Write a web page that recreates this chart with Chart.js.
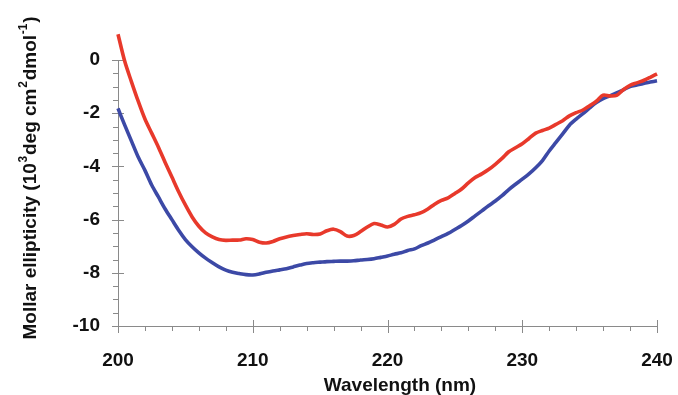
<!DOCTYPE html>
<html>
<head>
<meta charset="utf-8">
<script src="https://cdn.jsdelivr.net/npm/chart.js@4.4.1/dist/chart.umd.min.js"></script>
<style>
  html, body { margin: 0; padding: 0; background: #ffffff; }
  #wrap { position: relative; width: 678px; height: 395px; }
</style>
</head>
<body>
<div id="wrap"><canvas id="c" width="678" height="395"></canvas></div>
<script>
// ---- data ----
const wavelengths = [
  200.0,200.5,201.0,201.5,202.0,202.5,203.0,203.5,204.0,204.5,
  205.0,205.5,206.0,206.5,207.0,207.5,208.0,208.5,209.0,209.5,
  210.0,210.5,211.0,211.5,212.0,212.5,213.0,213.5,214.0,214.5,
  215.0,215.5,216.0,216.5,217.0,217.5,218.0,218.5,219.0,219.5,
  220.0,220.5,221.0,221.5,222.0,222.5,223.0,223.5,224.0,224.5,
  225.0,225.5,226.0,226.5,227.0,227.5,228.0,228.5,229.0,229.5,
  230.0,230.5,231.0,231.5,232.0,232.5,233.0,233.5,234.0,234.5,
  235.0,235.5,236.0,236.5,237.0,237.5,238.0,238.5,239.0,239.5,
  240.0
];
const redSeries = [
  0.97,-0.05,-0.82,-1.55,-2.22,-2.75,-3.28,-3.85,-4.40,-4.95,
  -5.45,-5.90,-6.25,-6.50,-6.65,-6.75,-6.78,-6.77,-6.77,-6.72,
  -6.75,-6.85,-6.88,-6.82,-6.72,-6.65,-6.60,-6.56,-6.53,-6.56,
  -6.54,-6.42,-6.36,-6.45,-6.62,-6.60,-6.45,-6.28,-6.15,-6.20,
  -6.28,-6.18,-5.98,-5.88,-5.82,-5.74,-5.60,-5.42,-5.28,-5.18,
  -5.02,-4.85,-4.62,-4.42,-4.28,-4.12,-3.92,-3.70,-3.45,-3.30,
  -3.15,-2.95,-2.75,-2.65,-2.56,-2.42,-2.28,-2.10,-1.98,-1.88,
  -1.72,-1.55,-1.32,-1.35,-1.33,-1.12,-0.95,-0.86,-0.77,-0.65,
  -0.52
];
const blueSeries = [
  -1.82,-2.45,-3.05,-3.65,-4.15,-4.70,-5.15,-5.60,-6.00,-6.40,
  -6.75,-7.02,-7.25,-7.45,-7.62,-7.78,-7.90,-7.98,-8.03,-8.07,
  -8.08,-8.04,-7.98,-7.93,-7.89,-7.85,-7.78,-7.71,-7.65,-7.62,
  -7.60,-7.58,-7.57,-7.56,-7.56,-7.55,-7.52,-7.50,-7.47,-7.42,
  -7.37,-7.30,-7.25,-7.16,-7.10,-6.98,-6.88,-6.76,-6.64,-6.52,
  -6.37,-6.22,-6.05,-5.86,-5.67,-5.48,-5.30,-5.10,-4.87,-4.67,
  -4.48,-4.28,-4.05,-3.78,-3.42,-3.10,-2.78,-2.45,-2.22,-2.02,
  -1.80,-1.60,-1.45,-1.35,-1.24,-1.12,-1.00,-0.94,-0.88,-0.83,
  -0.78
];
const xTickValues = [200, 210, 220, 230, 240];
const yTickValues = [0, -2, -4, -6, -8, -10];

const xTitle = 'Wavelength (nm)';
const yTitleParts = [
  ['Mollar ellipticity (10', false],
  ['3', true],
  ['deg cm', false],
  ['2', true],
  ['dmol', false],
  ['-1', true],
  [')', false]
];

const FONT = '"Liberation Sans", Arial, sans-serif';
const AXIS_COLOR = '#8a8a8a';

const decorPlugin = {
  id: 'decor',
  beforeDatasetsDraw(chart) {
    const ctx = chart.ctx;
    const xs = chart.scales.x, ys = chart.scales.y;
    const a = chart.chartArea;
    ctx.save();
    ctx.strokeStyle = AXIS_COLOR;
    ctx.lineWidth = 1;
    ctx.beginPath();
    // y ticks: every 0.5, majors at labelled values
    for (let v = ys.min; v <= ys.max + 1e-9; v += 0.5) {
      const p = Math.round(ys.getPixelForValue(v)) + 0.5;
      const major = yTickValues.includes(Math.round(v * 10) / 10);
      ctx.moveTo(a.left - (major ? 6 : 5), p);
      ctx.lineTo(a.left + (major ? 6 : 0), p);
    }
    // x ticks: every 2 nm, majors at labelled values
    for (let v = xs.min; v <= xs.max + 1e-9; v += 2) {
      const p = Math.round(xs.getPixelForValue(v)) + 0.5;
      const major = xTickValues.includes(v);
      ctx.moveTo(p, a.bottom + (major ? 7 : 5));
      ctx.lineTo(p, a.bottom - (major ? 6 : 0));
    }
    ctx.stroke();
    ctx.restore();
  },
  afterDraw(chart) {
    const ctx = chart.ctx;
    ctx.save();
    ctx.fillStyle = '#111111';
    // x title
    ctx.font = 'bold 19px ' + FONT;
    ctx.textAlign = 'center';
    ctx.textBaseline = 'alphabetic';
    ctx.fillText(xTitle, 400, 391);
    // y title (rotated, with superscripts)
    const mainFont = 'bold 19px ' + FONT;
    const supFont = 'bold 12px ' + FONT;
    let total = 0;
    yTitleParts.forEach(([t, sup]) => {
      ctx.font = sup ? supFont : mainFont;
      total += ctx.measureText(t).width + (sup ? 1.5 : 0);
    });
    ctx.translate(36, 178 + total / 2);
    ctx.rotate(-Math.PI / 2);
    ctx.textAlign = 'left';
    let x = 0;
    yTitleParts.forEach(([t, sup]) => {
      ctx.font = sup ? supFont : mainFont;
      ctx.fillText(t, x + (sup ? 0.75 : 0), sup ? -9 : 0);
      x += ctx.measureText(t).width + (sup ? 1.5 : 0);
    });
    ctx.restore();
  }
};

new Chart(document.getElementById('c'), {
  type: 'line',
  data: {
    datasets: [
      {
        label: 'red',
        data: wavelengths.map((w, i) => ({ x: w, y: redSeries[i] })),
        borderColor: '#e8392b',
        borderWidth: 3.6,
        pointRadius: 0,
        tension: 0.3,
        fill: false,
        clip: false
      },
      {
        label: 'blue',
        data: wavelengths.map((w, i) => ({ x: w, y: blueSeries[i] })),
        borderColor: '#3c49a6',
        borderWidth: 3.6,
        pointRadius: 0,
        tension: 0.3,
        fill: false,
        clip: false
      }
    ]
  },
  options: {
    responsive: false,
    animation: false,
    devicePixelRatio: 1,
    layout: { padding: { top: 60, right: 21, left: 0, bottom: 0 } },
    plugins: { legend: { display: false }, tooltip: { enabled: false } },
    scales: {
      x: {
        type: 'linear',
        min: 200, max: 240,
        afterFit(s) { s.height = 69; s.paddingLeft = 0; s.paddingRight = 0; },
        afterBuildTicks(s) { s.ticks = xTickValues.map(v => ({ value: v })); },
        grid: { display: false, drawTicks: false },
        border: { display: true, color: AXIS_COLOR, width: 1 },
        ticks: {
          padding: 23,
          color: '#111111',
          font: { family: FONT, size: 19, weight: 'bold' },
          maxRotation: 0,
          autoSkip: false
        }
      },
      y: {
        type: 'linear',
        min: -10, max: 0,
        afterFit(s) { s.width = 118; s.paddingTop = 0; s.paddingBottom = 0; },
        afterBuildTicks(s) { s.ticks = yTickValues.map(v => ({ value: v })); },
        grid: { display: false, drawTicks: false },
        border: { display: true, color: AXIS_COLOR, width: 1 },
        ticks: {
          padding: 18,
          color: '#111111',
          font: { family: FONT, size: 19, weight: 'bold' },
          autoSkip: false
        }
      }
    }
  },
  plugins: [decorPlugin]
});
</script>
</body>
</html>
